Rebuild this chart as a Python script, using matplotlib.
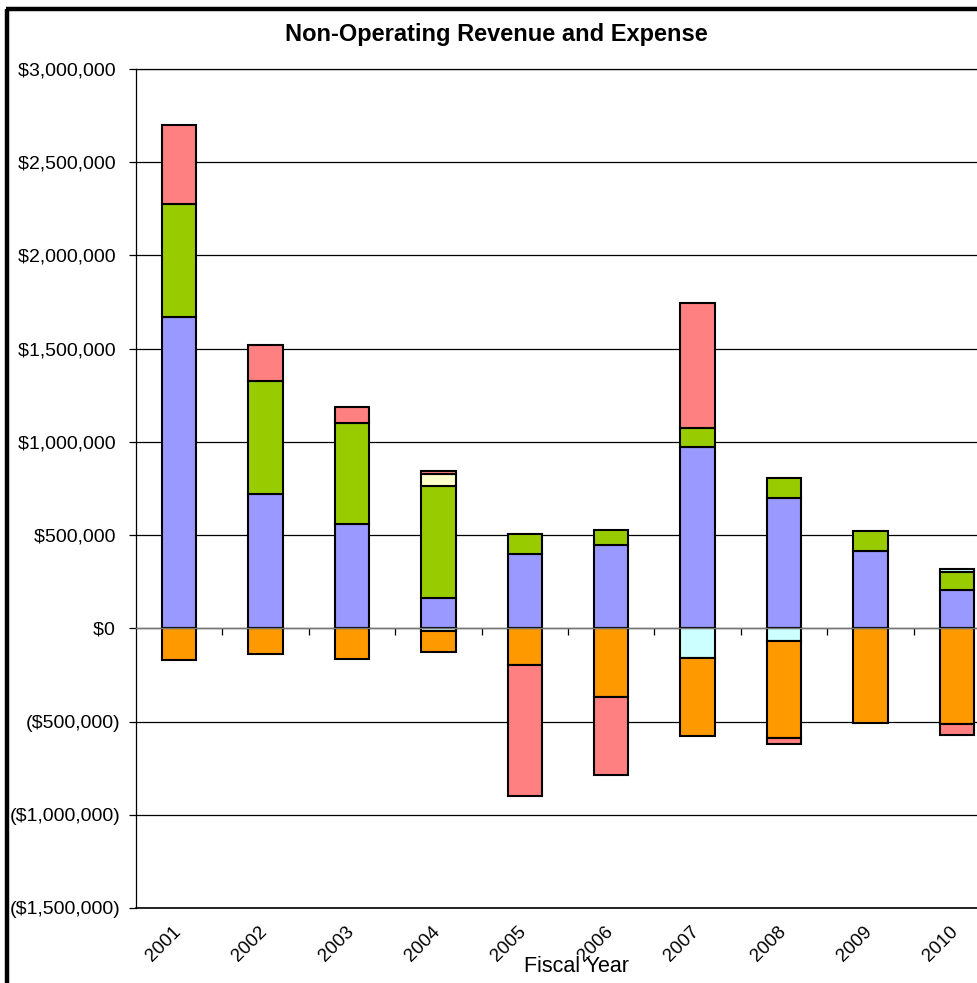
import matplotlib
matplotlib.use("Agg")
import matplotlib.pyplot as plt
import numpy as np
from matplotlib.lines import Line2D
from matplotlib.transforms import blended_transform_factory

plt.rcParams['font.family'] = ['Liberation Sans', 'DejaVu Sans']

years = ['2001', '2002', '2003', '2004', '2005', '2006', '2007', '2008', '2009', '2010']

# Series in stacking order (Excel stacks positives and negatives separately)
interest = [1670000, 720000, 560000, 165000, 400000, 447000, 975000, 700000, 415000, 205000]
cyan_a   = [0, 0, 0, -13000, 0, 0, -160000, -66000, 0, 0]
orange   = [-170000, -140000, -166000, -114000, -197000, -370000, -415000, -520000, -510000, -513000]
green    = [605000, 605000, 540000, 600000, 105000, 83000, 100000, 108000, 105000, 96000]
yellow   = [0, 0, 0, 61000, 0, 0, 0, 0, 0, 0]
pink     = [425000, 195000, 86000, 18000, -703000, -419000, 668000, -32000, 0, -61000]
cyan_b   = [0, 0, 0, 0, 0, 0, 0, 0, 0, 19000]

series = [interest, cyan_a, orange, green, yellow, pink, cyan_b]
colors = ['#9999FF', '#CCFFFF', '#FF9900', '#99CC00', '#FFFFCC', '#FF8080', '#CCFFFF']

yticks = [-1500000, -1000000, -500000, 0, 500000, 1000000, 1500000, 2000000, 2500000, 3000000]

def fmt(v):
    if v < 0:
        return "(${:,.0f})".format(-v)
    return "${:,.0f} ".format(v)

W, H = 977, 983
fig = plt.figure(figsize=(W / 100, H / 100), dpi=100)
ax = fig.add_axes([136 / W, 1 - 908 / H, 864 / W, (908 - 69) / H])

x = np.arange(len(years))
pos_base = np.zeros(len(years))
neg_base = np.zeros(len(years))
for vals, col in zip(series, colors):
    v = np.array(vals, dtype=float)
    base = np.where(v >= 0, pos_base, neg_base)
    mask = v != 0
    ax.bar(x[mask], v[mask], bottom=base[mask], width=0.40, color=col,
           edgecolor='black', linewidth=1.5, zorder=3)
    pos_base = pos_base + np.where(v > 0, v, 0)
    neg_base = neg_base + np.where(v < 0, v, 0)

ax.set_xlim(-0.5, 9.5)
ax.set_ylim(-1500000, 3000000)
ax.set_yticks(yticks)
ax.set_yticklabels([fmt(v) for v in yticks], fontsize=14)
ax.yaxis.grid(True, color='black', linewidth=0.9, zorder=0)
ax.set_axisbelow(True)
ax.axhline(-1500000, color='black', linewidth=1.2, clip_on=False, zorder=1)
ax.axhline(3000000, color='black', linewidth=0.9, clip_on=False, zorder=1)

for s in ['top', 'right']:
    ax.spines[s].set_visible(False)
ax.spines['left'].set_color('black')
ax.spines['left'].set_linewidth(0.9)
ax.spines['bottom'].set_position(('data', 0))
ax.spines['bottom'].set_color('#777777')
ax.spines['bottom'].set_linewidth(1.0)
ax.spines['bottom'].set_zorder(4)

ax.set_xticks(np.arange(0.5, 9.5, 1.0))
ax.set_xticklabels([])
ax.tick_params(axis='x', direction='out', length=5, width=0.9, color='black')
ax.tick_params(axis='y', direction='out', length=5, width=0.9, color='black', pad=6)

trans = blended_transform_factory(ax.transData, ax.transAxes)
for i, yr in enumerate(years):
    ax.text(i - 0.08, -0.018, yr, transform=trans, rotation=45, ha='right', va='top',
            rotation_mode='anchor', fontsize=13.5)

fig.text(576 / W, 1 - 966 / H, 'Fiscal Year', ha='center', va='center', fontsize=15.5)
fig.text(496 / W, 1 - 35 / H, 'Non-Operating Revenue and Expense', ha='center', va='center',
         fontsize=17, fontweight='bold')

# chart frame (thick border, clipped at right/bottom)
fig.add_artist(Line2D([7 / W, 7 / W], [0, 1 - 9 / H], transform=fig.transFigure,
                      color='black', linewidth=3.2, solid_capstyle='butt'))
fig.add_artist(Line2D([5.8 / W, 1], [1 - 9 / H, 1 - 9 / H], transform=fig.transFigure,
                      color='black', linewidth=3.2, solid_capstyle='butt'))

fig.savefig('out.png', dpi=100)
